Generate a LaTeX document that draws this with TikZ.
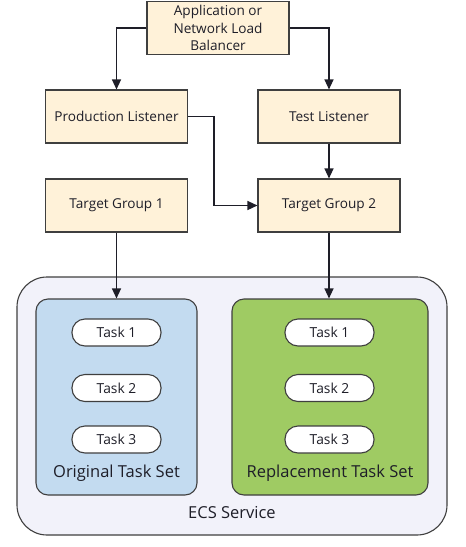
\documentclass[tikz,border=0pt]{standalone}
\usepackage{fontspec}
\setmainfont{Open Sans}
\usetikzlibrary{arrows.meta,positioning}
\definecolor{BoxCream}{HTML}{FFF2D9}
\definecolor{EdgeGray}{HTML}{3F3F3F}
\definecolor{ServiceFill}{HTML}{F2F2FA}
\definecolor{OrigBlue}{HTML}{C3DBF0}
\definecolor{ReplGreen}{HTML}{9FCB63}
\definecolor{Ink}{HTML}{1E1E28}

\begin{document}
\begin{tikzpicture}[
    x=1pt, y=-1pt,
    font=\fontsize{13.6}{17.5}\selectfont,
    flow/.style={-{Triangle[length=10pt,width=9pt]}, line width=1.3pt, draw=Ink},
    stage/.style={
        draw=EdgeGray,
        fill=BoxCream,
        line width=1.1pt,
        minimum width=142pt,
        minimum height=53pt,
        align=center,
        inner sep=1pt,
        text=Ink
    },
    taskset/.style={draw=EdgeGray, line width=1.1pt, rounded corners=12pt},
    task/.style={
        draw=EdgeGray,
        fill=white,
        line width=1.1pt,
        rounded corners=13pt,
        minimum width=89pt,
        minimum height=27pt,
        inner sep=0pt,
        font=\fontsize{13.8}{16}\selectfont,
        text=Ink
    },
    setlabel/.style={font=\fontsize{16.5}{19}\selectfont, text=Ink}
]
\useasboundingbox (0,0) rectangle (466,547);

% Load balancer and listeners
\node[stage] (lb) at (218,28)
    {Application or\\Network Load\\Balancer};
\node[stage] (prod) at (116.5,116.5) {Production Listener};
\node[stage] (test) at (329,116.5) {Test Listener};

% Target groups
\node[stage] (tg1) at (116.5,205.5) {Target Group 1};
\node[stage] (tg2) at (329,205.5) {Target Group 2};

% ECS service with both task sets
\node[taskset, fill=ServiceFill, rounded corners=30pt,
      minimum width=430pt, minimum height=258pt] (ecs) at (232,406) {};
\node[setlabel] (ecslbl) at (232,513) {ECS Service};

\node[taskset, fill=OrigBlue, minimum width=161pt, minimum height=196pt] (orig) at (116.5,397) {};
\node[setlabel] (origlbl) at (116.5,473) {Original Task Set};

\node[taskset, fill=ReplGreen, minimum width=196pt, minimum height=196pt] (repl) at (330,397) {};
\node[setlabel] (repllbl) at (330,473) {Replacement Task Set};

\foreach \n/\y in {1/332.5, 2/388, 3/439.5} {
    \node[task] (otask\n) at (116.5,\y) {Task \n};
    \node[task] (rtask\n) at (329.5,\y) {Task \n};
}

% Connectors
\draw[flow] (lb.west) -| (prod.north);
\draw[flow] (lb.east) -| (test.north);
\draw[flow] (prod.east) -- ++(26,0) |- (tg2.west);
\draw[flow] (test.south) -- (tg2.north);
\draw[flow] (tg1.south) -- (orig.north);
\draw[flow] (tg2.south) -- (tg2.south |- repl.north);

\end{tikzpicture}
\end{document}
